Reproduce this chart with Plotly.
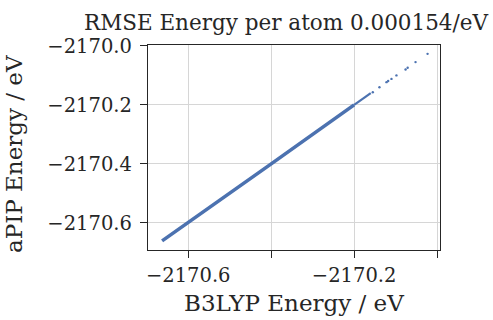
import plotly.graph_objects as go

# Dense band - drawn as a thick line
band_x = [-2170.663, -2170.55, -2170.40, -2170.30, -2170.20]
band_y = [-2170.661, -2170.55, -2170.40, -2170.30, -2170.20]
band_tail_x = [-2170.20, -2170.16]
band_tail_y = [-2170.20, -2170.16]

# Sparse upper points
sparse_x = [-2170.155, -2170.139, -2170.122, -2170.118, -2170.110, -2170.098,
            -2170.076, -2170.071, -2170.052, -2170.023]
sparse_y = [-2170.157, -2170.140, -2170.123, -2170.119, -2170.112, -2170.100,
            -2170.080, -2170.074, -2170.055, -2170.027]

xtick_vals = [-2170.6, -2170.4, -2170.2, -2170.0]
xtick_text = ["\u22122170.6", "", "\u22122170.2", ""]
ytick_vals = [-2170.0, -2170.2, -2170.4, -2170.6]
ytick_text = ["\u22122170.0", "\u22122170.2", "\u22122170.4", "\u22122170.6"]

title_text = "RMSE Energy per atom 0.000154/eV"
x_title = "B3LYP Energy / eV"
y_title = "aPIP Energy / eV"

color = "#4c72b0"
font = "DejaVu Serif"
txt = "#262626"

fig = go.Figure()
fig.add_trace(go.Scatter(x=band_x, y=band_y, mode="lines",
                         line=dict(color=color, width=3.6), hoverinfo="skip"))
fig.add_trace(go.Scatter(x=band_tail_x, y=band_tail_y, mode="lines",
                         line=dict(color=color, width=2.2), hoverinfo="skip"))
fig.add_trace(go.Scatter(x=sparse_x, y=sparse_y, mode="markers",
                         marker=dict(color=color, size=2.4, line=dict(width=0))))

axis_common = dict(
    showgrid=True, gridcolor="#d6d6d6", gridwidth=1,
    showline=True, linecolor="#262626", linewidth=1.3, mirror=True,
    ticks="outside", ticklen=7, tickcolor="#262626", tickwidth=1,
    zeroline=False, automargin=False,
    tickfont=dict(family=font, size=19.5, color=txt),
)

L, T, R, B = 148, 45, 53, 70
pw, ph = 493 - L - R, 320 - T - B

fig.update_layout(
    width=493, height=320,
    margin=dict(l=L, r=R, t=T, b=B),
    plot_bgcolor="white", paper_bgcolor="white",
    showlegend=False,
    xaxis=dict(range=[-2170.697, -2169.993], tickvals=xtick_vals, ticktext=xtick_text,
               **axis_common),
    yaxis=dict(range=[-2170.692, -2169.997], tickvals=ytick_vals, ticktext=ytick_text,
               ticklabelstandoff=4, **axis_common),
    title=dict(text=title_text, x=286/493, xanchor="center", xref="container",
               y=1 - 22/320, yanchor="middle", yref="container",
               font=dict(family=font, size=21.5, color=txt)),
    annotations=[
        dict(text=x_title, xref="paper", yref="paper",
             x=(294 - L) / pw, y=(T + ph - 303) / ph,
             xanchor="center", yanchor="middle", showarrow=False,
             font=dict(family=font, size=23, color=txt)),
        dict(text=y_title, xref="paper", yref="paper", textangle=-90,
             x=(14 - L) / pw, y=(T + ph - 154) / ph,
             xanchor="center", yanchor="middle", showarrow=False,
             font=dict(family=font, size=23, color=txt)),
    ],
)

fig.write_html("out.html", config={"displayModeBar": False},
               post_script="document.body.style.margin='0';document.body.style.padding='0';")
